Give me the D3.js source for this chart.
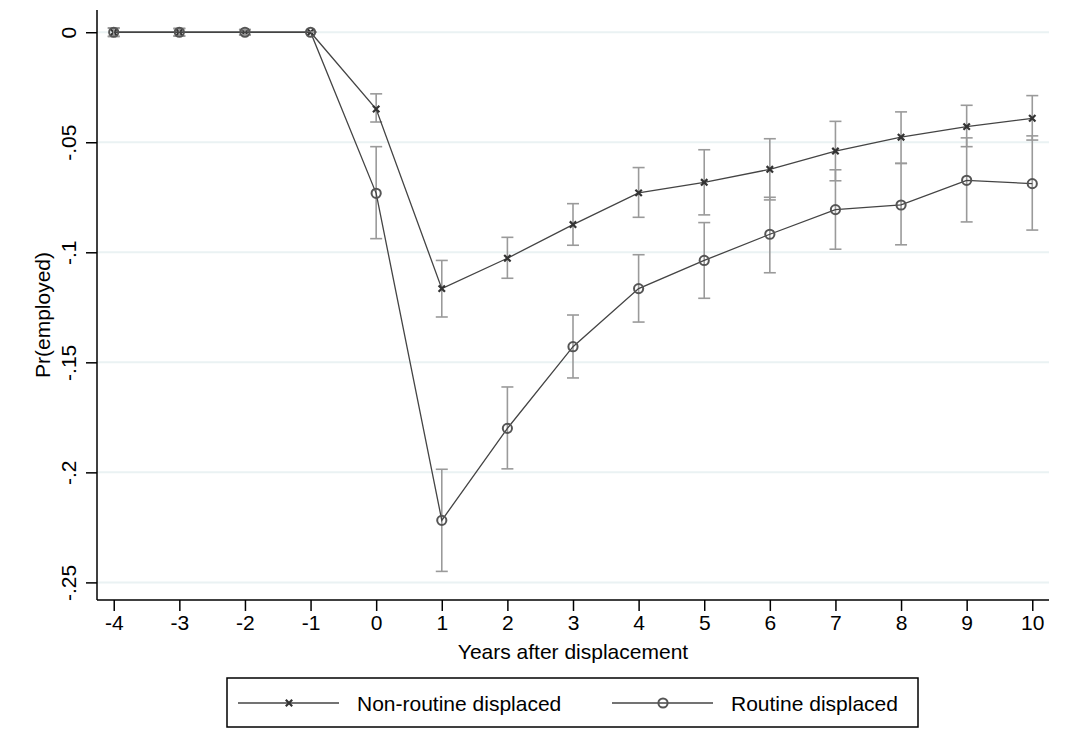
<!DOCTYPE html>
<html>
<head>
<meta charset="utf-8">
<script src="https://cdn.jsdelivr.net/npm/d3@7"></script>
<style>
  body { margin: 0; background: #fff; }
  #chart { width: 1071px; height: 729px; }
  text { font-family: "Liberation Sans", Arial, sans-serif; fill: #000; }
</style>
</head>
<body>
<div id="chart"></div>
<script>
// Datos
const years = [-4, -3, -2, -1, 0, 1, 2, 3, 4, 5, 6, 7, 8, 9, 10];

const nonRoutine = [0, 0, 0, 0, -0.0349, -0.1165, -0.1027, -0.0874, -0.0730, -0.0682, -0.0623, -0.0540, -0.0477, -0.0429, -0.0391];
const nonRoutineLo = [-0.0018, -0.0016, -0.0012, 0, -0.0408, -0.1294, -0.1118, -0.0968, -0.0841, -0.0830, -0.0762, -0.0675, -0.0596, -0.0520, -0.0490];
const nonRoutineHi = [0.0018, 0.0016, 0.0012, 0, -0.0280, -0.1037, -0.0932, -0.0779, -0.0615, -0.0534, -0.0484, -0.0405, -0.0362, -0.0332, -0.0288];

const routine = [0, 0, 0, 0, -0.0732, -0.2218, -0.1800, -0.1429, -0.1165, -0.1037, -0.0918, -0.0806, -0.0785, -0.0673, -0.0688];
const routineLo = [-0.0020, -0.0018, -0.0012, 0, -0.0938, -0.2450, -0.1984, -0.1571, -0.1317, -0.1209, -0.1093, -0.0986, -0.0966, -0.0862, -0.0899];
const routineHi = [0.0020, 0.0018, 0.0012, 0, -0.0520, -0.1986, -0.1612, -0.1285, -0.1011, -0.0865, -0.0750, -0.0625, -0.0596, -0.0480, -0.0471];

const yTicks = [0, -0.05, -0.1, -0.15, -0.2, -0.25];
const yTickLabels = ['0', '-.05', '-.1', '-.15', '-.2', '-.25'];
const legendLabels = ['Non-routine displaced', 'Routine displaced'];

/* Gráfico */
function getChart() {
    let chartBlock = d3.select('#chart');
    let {width, height, chart} = setChart(chartBlock);

    let x = d3.scaleLinear().domain([-4.255, 10.255]).range([0, width]);
    let y = d3.scaleLinear().domain([0.0101, -0.258]).range([0, height]);

    //Líneas de cuadrícula
    chart.append('g')
        .selectAll('line')
        .data(yTicks)
        .enter().append('line')
        .attr('x1', 0).attr('x2', width)
        .attr('y1', d => y(d)).attr('y2', d => y(d))
        .attr('stroke', '#eaf2f3')
        .attr('stroke-width', 2);

    //Eje Y
    let yAxis = chart.append('g')
        .call(d3.axisLeft(y).tickValues(yTicks).tickSize(11).tickFormat((d, i) => yTickLabels[i]));
    yAxis.select('.domain').attr('stroke', '#000').attr('stroke-width', 1.5).attr('d', 'M0,0V' + height);
    yAxis.selectAll('.tick line').attr('stroke', '#000').attr('stroke-width', 1.5);
    yAxis.selectAll('.tick text')
        .attr('font-size', 21)
        .attr('transform', 'rotate(-90)')
        .attr('x', 0)
        .attr('y', -21)
        .attr('dy', 0)
        .attr('text-anchor', 'middle');

    //Eje X
    let xAxis = chart.append('g')
        .attr('transform', 'translate(0,' + height + ')')
        .call(d3.axisBottom(x).tickValues(years).tickSize(11).tickFormat(d3.format('d')));
    xAxis.select('.domain').attr('stroke', '#000').attr('stroke-width', 1.5).attr('d', 'M0,0H' + width);
    xAxis.selectAll('.tick line').attr('stroke', '#000').attr('stroke-width', 1.5);
    xAxis.selectAll('.tick text')
        .attr('font-size', 21)
        .attr('y', 15)
        .attr('dy', '0.71em')
        .text(d => d < 0 ? '-' + Math.abs(d) : d);

    //Títulos
    chart.append('text')
        .attr('x', x(3))
        .attr('y', height + 59)
        .attr('text-anchor', 'middle')
        .attr('font-size', 21)
        .text('Years after displacement');
    chart.append('text')
        .attr('transform', 'translate(-47,' + (height / 2 + 10) + ') rotate(-90)')
        .attr('text-anchor', 'middle')
        .attr('font-size', 21)
        .text('Pr(employed)');

    //Series
    let series = [
        {vals: nonRoutine, lo: nonRoutineLo, hi: nonRoutineHi, marker: 'x'},
        {vals: routine, lo: routineLo, hi: routineHi, marker: 'o'}
    ];

    let line = d3.line().x(d => x(d.t)).y(d => y(d.v));

    series.forEach(s => {
        let pts = years.map((t, i) => ({t: t, v: s.vals[i], lo: s.lo[i], hi: s.hi[i]}));

        //Intervalos de confianza
        let ci = chart.append('g').attr('stroke', '#9a9a9a').attr('stroke-width', 1.6);
        ci.selectAll('.ci').data(pts).enter().append('line')
            .attr('x1', d => x(d.t)).attr('x2', d => x(d.t))
            .attr('y1', d => y(d.lo)).attr('y2', d => y(d.hi));
        ci.selectAll('.caphi').data(pts).enter().append('line')
            .attr('x1', d => x(d.t) - 6).attr('x2', d => x(d.t) + 6)
            .attr('y1', d => y(d.hi)).attr('y2', d => y(d.hi));
        ci.selectAll('.caplo').data(pts).enter().append('line')
            .attr('x1', d => x(d.t) - 6).attr('x2', d => x(d.t) + 6)
            .attr('y1', d => y(d.lo)).attr('y2', d => y(d.lo));

        chart.append('path')
            .datum(pts)
            .attr('fill', 'none')
            .attr('stroke', '#444')
            .attr('stroke-width', 1.3)
            .attr('d', line);

        drawMarkers(chart, pts.map(d => [x(d.t), y(d.v)]), s.marker);
    });

    //Leyenda
    let legend = d3.select('#chart svg').append('g');
    legend.append('rect')
        .attr('x', 227).attr('y', 678)
        .attr('width', 691).attr('height', 49)
        .attr('fill', '#fff')
        .attr('stroke', '#000')
        .attr('stroke-width', 1.5);
    let items = [{x0: 238, marker: 'x'}, {x0: 612, marker: 'o'}];
    items.forEach((it, i) => {
        legend.append('line')
            .attr('x1', it.x0).attr('x2', it.x0 + 101)
            .attr('y1', 703).attr('y2', 703)
            .attr('stroke', '#444').attr('stroke-width', 1.3);
        drawMarkers(legend, [[it.x0 + 51, 703]], it.marker);
        legend.append('text')
            .attr('x', it.x0 + 119)
            .attr('y', 710.5)
            .attr('font-size', 21)
            .text(legendLabels[i]);
    });
}

function drawMarkers(g, coords, type) {
    if (type === 'o') {
        g.append('g').selectAll('circle').data(coords).enter().append('circle')
            .attr('cx', d => d[0]).attr('cy', d => d[1])
            .attr('r', 4.6)
            .attr('fill', 'none')
            .attr('stroke', '#555')
            .attr('stroke-width', 2);
    } else {
        g.append('g').selectAll('path').data(coords).enter().append('path')
            .attr('d', d => 'M' + (d[0] - 3.2) + ',' + (d[1] - 3.2) + 'L' + (d[0] + 3.2) + ',' + (d[1] + 3.2) +
                'M' + (d[0] - 3.2) + ',' + (d[1] + 3.2) + 'L' + (d[0] + 3.2) + ',' + (d[1] - 3.2))
            .attr('stroke', '#333')
            .attr('stroke-width', 2.2);
    }
}

getChart();

/* Inicialización del gráfico */
function setChart(chartBlock) {
    let margin = {top: 10, right: 22, bottom: 129, left: 97},
    width = parseInt(chartBlock.style('width')) - margin.left - margin.right,
    height = parseInt(chartBlock.style('height')) - margin.top - margin.bottom;

    let chart = chartBlock
        .append('svg')
        .attr('width', width + margin.left + margin.right)
        .attr('height', height + margin.top + margin.bottom)
        .append('g')
        .attr('transform', 'translate(' + margin.left + ',' + margin.top + ')');

    return {margin, width, height, chart};
}
</script>
</body>
</html>
